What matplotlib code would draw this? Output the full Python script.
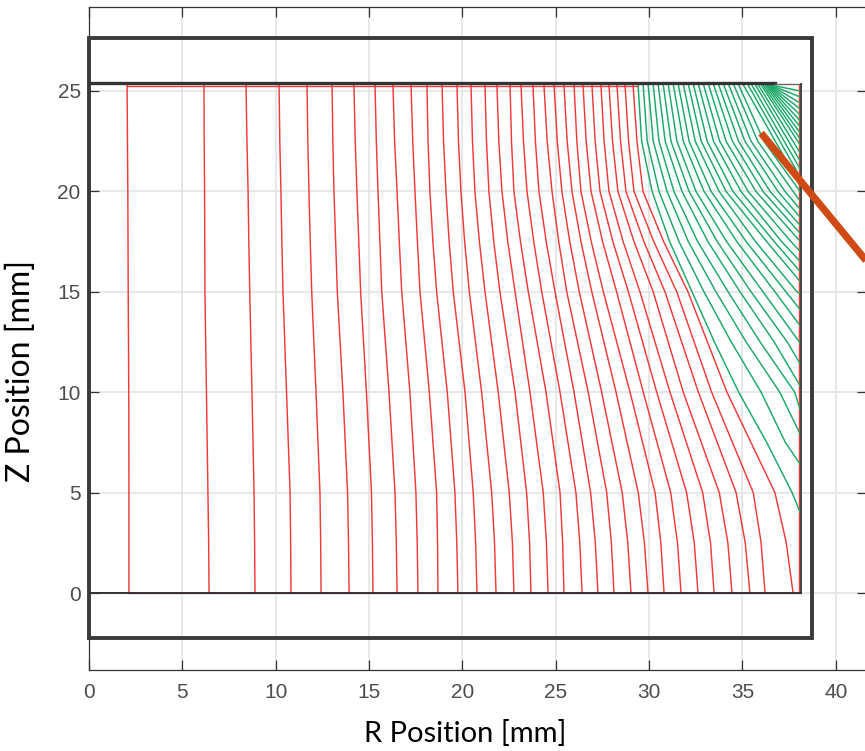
import numpy as np
import matplotlib.pyplot as plt

# geometry of the drawn boxes [mm]
outer_r = [0.0, 38.73, 38.73, 0.0, 0.0]
outer_z = [-2.24, -2.24, 27.64, 27.64, -2.24]
top_z = 25.3
wall_r = 38.1
electrode_end_r = 36.74

# red field lines: r [mm] of every line at the z levels in red_levels
red_levels = [25.3, 22.5, 20, 17.5, 15, 10, 5, 2.5, 0]
red_r_top = [2.04, 6.16, 8.41, 10.18, 11.68, 13.02, 14.19, 15.32, 16.28, 17.25,
             18.10, 18.91, 19.71, 20.46, 21.21, 21.85, 22.55, 23.14, 23.78, 24.37,
             24.91, 25.44, 25.98, 26.46, 26.94, 27.42, 27.85, 28.28, 28.71, 29.14]
red_r_225 = [2.06, 6.17, 8.46, 10.22, 11.72, 13.06, 14.26, 15.39, 16.37, 17.34,
             18.16, 18.99, 19.79, 20.54, 21.29, 21.95, 22.63, 23.27, 23.91, 24.54,
             25.08, 25.61, 26.13, 26.63, 27.11, 27.59, 28.04, 28.47, 28.90, 29.35]
red_r_20 = [2.08, 6.19, 8.52, 10.28, 11.78, 13.12, 14.35, 15.48, 16.50, 17.46,
            18.26, 19.12, 19.92, 20.67, 21.42, 22.12, 22.76, 23.46, 24.10, 24.80,
            25.33, 25.87, 26.35, 26.89, 27.37, 27.85, 28.33, 28.76, 29.19, 29.67]
red_r_175 = [2.09, 6.20, 8.56, 10.33, 11.85, 13.21, 14.45, 15.58, 16.62, 17.59,
             18.42, 19.29, 20.12, 20.91, 21.68, 22.43, 23.11, 23.82, 24.49, 25.16,
             25.75, 26.35, 26.90, 27.51, 28.06, 28.61, 29.19, 29.72, 30.25, 30.78]
red_r_15 = [2.10, 6.21, 8.61, 10.39, 11.93, 13.30, 14.55, 15.68, 16.75, 17.73,
            18.62, 19.51, 20.37, 21.21, 22.01, 22.82, 23.53, 24.25, 24.96, 25.59,
            26.26, 26.93, 27.55, 28.26, 28.89, 29.51, 30.22, 30.85, 31.48, 32.08]
red_r_10 = [2.13, 6.29, 8.73, 10.58, 12.16, 13.60, 14.86, 16.07, 17.19, 18.23,
            19.19, 20.14, 21.03, 21.92, 22.82, 23.62, 24.48, 25.23, 25.98, 26.74,
            27.46, 28.23, 28.98, 29.69, 30.41, 31.12, 31.83, 32.64, 33.35, 34.17]
red_r_5 = [2.14, 6.37, 8.84, 10.77, 12.37, 13.85, 15.13, 16.39, 17.51, 18.62,
           19.60, 20.58, 21.57, 22.51, 23.44, 24.33, 25.23, 26.08, 26.87, 27.73,
           28.56, 29.42, 30.32, 31.16, 32.01, 32.87, 33.76, 34.66, 35.58, 36.74]
red_r_25 = [2.14, 6.41, 8.87, 10.80, 12.41, 13.90, 15.18, 16.46, 17.58, 18.67,
            19.70, 20.71, 21.72, 22.68, 23.60, 24.50, 25.37, 26.29, 27.12, 27.98,
            28.86, 29.75, 30.63, 31.52, 32.42, 33.29, 34.22, 35.15, 36.00, 37.35]
red_r_0 = [2.14, 6.43, 8.89, 10.82, 12.43, 13.93, 15.21, 16.50, 17.62, 18.69,
           19.76, 20.78, 21.80, 22.76, 23.67, 24.59, 25.44, 26.41, 27.26, 28.12,
           29.03, 29.94, 30.80, 31.71, 32.62, 33.48, 34.44, 35.40, 36.21, 37.71]

# green field lines: start on the top face, end on the outer wall (r = 38.1)
# (a line only has an entry at a level it reaches before hitting the wall)
green_r_top = [29.41, 29.68, 29.95, 30.22, 30.49, 30.76, 31.03, 31.30, 31.57, 31.84,
               32.11, 32.38, 32.65, 32.92, 33.19, 33.46, 33.73, 34.00, 34.27, 34.54,
               34.80, 35.05, 35.30, 35.50, 35.70, 35.85, 36.00, 36.10, 36.20, 36.28,
               36.34, 36.39, 36.43, 36.46, 36.48, 36.50]
green_r_225 = [29.60, 29.90, 30.22, 30.53, 30.86, 31.17, 31.49, 31.83, 32.14, 32.47,
               32.79, 33.11, 33.45, 33.78, 34.12, 34.46, 34.79, 35.13, 35.46, 35.82,
               36.15]
green_r_20 = [30.16, 30.53, 30.96, 31.33, 31.76, 32.14, 32.51, 32.94, 33.32, 33.75,
              34.12, 34.49, 34.92, 35.30, 35.72, 36.10, 36.48, 36.90, 37.28, 37.71,
              38.08]
green_r_175 = [31.10, 31.60, 32.10, 32.60, 33.15, 33.65, 34.15, 34.70, 35.20, 35.70,
               36.30, 36.70, 37.10, 37.60]
green_r_15 = [32.30, 32.94, 33.58, 34.23, 34.87, 35.46, 36.10, 36.74, 37.33, 37.92]
green_r_125 = [33.50, 34.40, 35.20, 35.95, 36.70, 37.40, 38.05]
green_r_10 = [34.8, 36.0, 37.0, 37.8]
green_r_75 = [36.3, 37.3]
green_r_5 = [37.66]
green_z_end = [4.0, 6.4, 7.9, 9.1, 10.3, 11.4, 12.4, 13.3, 14.1, 14.9,
               15.5, 16.0, 16.5, 17.0, 17.5, 17.9, 18.3, 18.7, 19.1, 19.5,
               19.9, 20.3, 20.7, 21.1, 21.5, 21.9, 22.3, 22.6, 22.9, 23.2,
               23.5, 23.8, 24.1, 24.4, 24.7, 25.0]

# pointer arrow drawn over the plot
pointer_r = [36.0, 43.0]
pointer_z = [22.9, 15.0]

RED = "#f03a3a"
GREEN = "#1aa868"

fig = plt.figure(figsize=(8.65, 7.51), dpi=100)
ax = fig.add_axes([89 / 865, 81 / 751, 778 / 865, 663 / 751])
ax.set_xlim(0, (867 - 89) / 18.67)
ax.set_ylim(-3.83, 29.18)

ax.set_xticks(np.arange(0, 45, 5))
ax.set_yticks(np.arange(0, 30, 5))
ax.grid(True, color="#e4e4e4", lw=1.2, zorder=0)
ax.set_axisbelow(True)
ax.tick_params(direction="in", length=7, width=0.9, color="#333333",
               labelcolor="#4d4d4d", labelsize=15, top=True, right=True)
ax.tick_params(axis="x", pad=9)
ax.tick_params(axis="y", pad=6)
for lab in ax.get_xticklabels() + ax.get_yticklabels():
    lab.set_family("Liberation Sans")
for s in ax.spines.values():
    s.set_color("#333333")
    s.set_linewidth(0.9)

# red lines
red_table = [red_r_top, red_r_225, red_r_20, red_r_175, red_r_15,
             red_r_10, red_r_5, red_r_25, red_r_0]
for i in range(len(red_r_top)):
    rs = [row[i] for row in red_table]
    ax.plot(rs, red_levels, color=RED, lw=1.05, zorder=3)
ax.plot([red_r_top[0], green_r_top[0]], [top_z - 0.05, top_z - 0.05], color=RED, lw=1.0, zorder=3)
ax.plot([red_r_0[0], wall_r], [0.02, 0.02], color=RED, lw=1.0, zorder=3)
ax.plot([wall_r - 0.08, wall_r - 0.08], [0, top_z], color=RED, lw=1.0, zorder=3)

# green lines
green_levels = [(22.5, green_r_225), (20, green_r_20), (17.5, green_r_175),
                (15, green_r_15), (12.5, green_r_125), (10, green_r_10),
                (7.5, green_r_75), (5, green_r_5)]
for i in range(len(green_r_top)):
    rs = [green_r_top[i]]
    zs = [top_z]
    for lev, arr in green_levels:
        if i < len(arr):
            rs.append(arr[i])
            zs.append(lev)
    rs.append(wall_r)
    zs.append(green_z_end[i])
    ax.plot(rs, zs, color=GREEN, lw=1.05, zorder=3)

# boxes
ax.plot(outer_r, outer_z, color="#3a3a3a", lw=2.8, zorder=4, clip_on=False,
        solid_joinstyle="miter")
ax.plot([0, electrode_end_r], [top_z + 0.08, top_z + 0.08], color="#333333", lw=2.4, zorder=4)
ax.plot([electrode_end_r, wall_r + 0.04], [top_z + 0.05, top_z + 0.05], color="#666666", lw=1.0, zorder=4)
ax.plot([wall_r + 0.04, wall_r + 0.04], [0, top_z + 0.05], color="#444444", lw=1.4, zorder=4)
ax.plot([0, wall_r + 0.04], [0, 0], color="#333333", lw=1.4, zorder=4)

# pointer
ax.plot(pointer_r, pointer_z, color="#cf4a14", lw=5.2, solid_capstyle="butt",
        zorder=6, clip_on=False)

fig.text(465 / 865, 1 - 734 / 751, "R Position [mm]", ha="center", va="center",
         fontsize=21, family="Lato", color="black")
fig.text(21 / 865, 1 - 371 / 751, "Z Position [mm]", ha="center", va="center",
         rotation=90, fontsize=23, family="Lato", color="black")

fig.savefig("out.png", dpi=100)
